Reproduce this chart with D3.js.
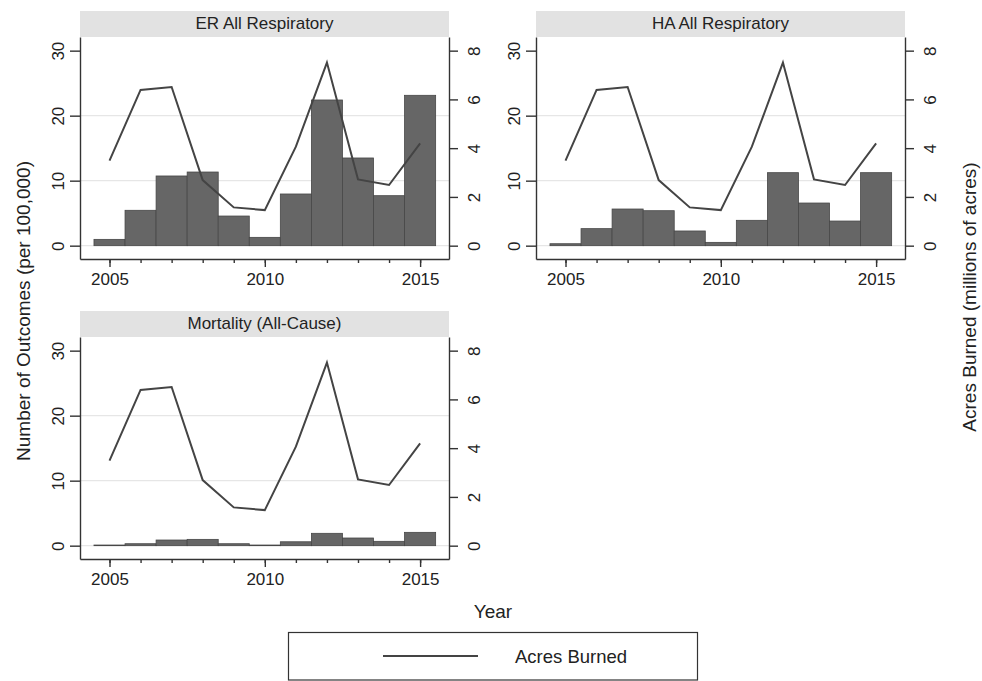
<!DOCTYPE html>
<html lang="en">
<head>
<meta charset="utf-8">
<title>Outcomes and acres burned</title>
<script src="https://d3js.org/d3.v7.min.js"></script>
<style>
  body { margin: 0; background: #fff; }
  svg { font-family: "Liberation Sans", Arial, sans-serif; }
  .axis path, .axis line { stroke: #333; stroke-width: 1.4; }
  .axis text { fill: #222; font-size: 17px; }
</style>
</head>
<body>
<div id="chart"></div>
<script>
// years on x axis
var years = [2005, 2006, 2007, 2008, 2009, 2010, 2011, 2012, 2013, 2014, 2015];
// acres burned (millions), same line in every panel
var acres = [3.49, 6.39, 6.51, 2.69, 1.57, 1.46, 4.06, 7.51, 2.72, 2.49, 4.20];
// outcomes per 100,000
var erResp   = [0.97, 5.44, 10.72, 11.33, 4.56, 1.28, 7.95, 22.41, 13.49, 7.69, 23.13];
var haResp   = [0.30, 2.62, 5.64, 5.38, 2.26, 0.51, 3.90, 11.23, 6.56, 3.79, 11.23];
var mortAll  = [0.10, 0.30, 0.87, 0.97, 0.30, 0.10, 0.60, 1.90, 1.18, 0.67, 2.05];
var panelNames = ["ER All Respiratory", "HA All Respiratory", "Mortality (All-Cause)"];
var leftTicks = [0, 10, 20, 30];
var rightTicks = [0, 2, 4, 6, 8];
var gridTicks = [0, 10, 20];
var yearLabels = [2005, 2010, 2015];

var W = 982, H = 681;
var svg = d3.select("#chart").append("svg")
    .attr("width", W).attr("height", H);

// panel placement: plot area box
var pw = 369, ph = 222;
var panels = [
  {name: panelNames[0], vals: erResp, x0: 80,  y0: 37},
  {name: panelNames[1], vals: haResp, x0: 536, y0: 37},
  {name: panelNames[2], vals: mortAll, x0: 80, y0: 337}
];

function drawPanel(p) {
  var g = svg.append("g").attr("transform", "translate(" + p.x0 + "," + p.y0 + ")");

  var x = d3.scaleLinear().domain([2004.05, 2015.93]).range([0, pw]);
  var y = d3.scaleLinear().domain([-2.05, 32.1]).range([ph, 0]);
  var y2 = d3.scaleLinear().domain([-2.05 * 8 / 30, 32.1 * 8 / 30]).range([ph, 0]);

  // header strip
  g.append("rect")
    .attr("x", 0).attr("y", -26)
    .attr("width", pw).attr("height", 26)
    .attr("fill", "#e2e2e2");
  g.append("text")
    .attr("x", pw / 2).attr("y", -8)
    .attr("text-anchor", "middle")
    .style("font-size", "17px").style("fill", "#222")
    .text(p.name);

  // gridlines
  g.append("g").selectAll("line")
    .data(gridTicks)
    .join("line")
    .attr("x1", 0).attr("x2", pw)
    .attr("y1", d => y(d)).attr("y2", d => y(d))
    .attr("stroke", "#e6e6e6").attr("stroke-width", 1.2);

  // bars, one year wide
  g.append("g").selectAll("rect")
    .data(years)
    .join("rect")
    .attr("x", d => x(d - 0.5))
    .attr("width", d => x(d + 0.5) - x(d - 0.5))
    .attr("y", (d, i) => y(p.vals[i]))
    .attr("height", (d, i) => y(0) - y(p.vals[i]))
    .attr("fill", "#666")
    .attr("stroke", "#474747")
    .attr("stroke-width", 0.8);

  // acres burned line on right scale
  var line = d3.line()
    .x((d, i) => x(years[i]))
    .y(d => y2(d));
  g.append("path")
    .datum(acres)
    .attr("d", line)
    .attr("fill", "none")
    .attr("stroke", "#444")
    .attr("stroke-width", 2);

  // left axis
  var ax = g.append("g").attr("class", "axis")
    .call(d3.axisLeft(y).tickValues(leftTicks).tickSize(10).tickSizeOuter(0));
  ax.selectAll("text")
    .attr("x", 0).attr("dy", 0)
    .attr("text-anchor", "middle")
    .attr("transform", "translate(-16,0) rotate(-90)");

  // right axis
  var ar = g.append("g").attr("class", "axis")
    .attr("transform", "translate(" + pw + ",0)")
    .call(d3.axisRight(y2).tickValues(rightTicks).tickSize(9).tickSizeOuter(0));
  ar.selectAll("text")
    .attr("x", 0).attr("dy", 0)
    .attr("text-anchor", "middle")
    .attr("transform", "translate(31,0) rotate(-90)");

  // bottom axis: minor ticks every year, labels every 5
  g.append("g").attr("class", "axis")
    .attr("transform", "translate(0," + ph + ")")
    .call(d3.axisBottom(x).tickValues(years).tickSize(4).tickSizeOuter(0).tickFormat(""));
  var ab = g.append("g").attr("class", "axis")
    .attr("transform", "translate(0," + ph + ")")
    .call(d3.axisBottom(x).tickValues(yearLabels).tickSize(8).tickSizeOuter(0).tickFormat(d3.format("d")));
  ab.select(".domain").remove();
  ab.selectAll("text").attr("y", 14).attr("dy", "0.71em");
}

panels.forEach(drawPanel);

// axis titles
svg.append("text")
  .attr("transform", "translate(30,311) rotate(-90)")
  .attr("text-anchor", "middle")
  .style("font-size", "19px").style("fill", "#222")
  .text("Number of Outcomes (per 100,000)");

svg.append("text")
  .attr("transform", "translate(976,297) rotate(-90)")
  .attr("text-anchor", "middle")
  .style("font-size", "19px").style("fill", "#222")
  .text("Acres Burned (millions of acres)");

svg.append("text")
  .attr("x", 493).attr("y", 618)
  .attr("text-anchor", "middle")
  .style("font-size", "19px").style("fill", "#222")
  .text("Year");

// legend
var leg = svg.append("g");
leg.append("rect")
  .attr("x", 288.5).attr("y", 632.5)
  .attr("width", 409).attr("height", 47.5)
  .attr("fill", "none").attr("stroke", "#333").attr("stroke-width", 1.2);
leg.append("line")
  .attr("x1", 383).attr("x2", 478)
  .attr("y1", 656).attr("y2", 656)
  .attr("stroke", "#444").attr("stroke-width", 2);
leg.append("text")
  .attr("x", 515).attr("y", 662.5)
  .style("font-size", "18.5px").style("fill", "#222")
  .text("Acres Burned");
</script>
</body>
</html>
